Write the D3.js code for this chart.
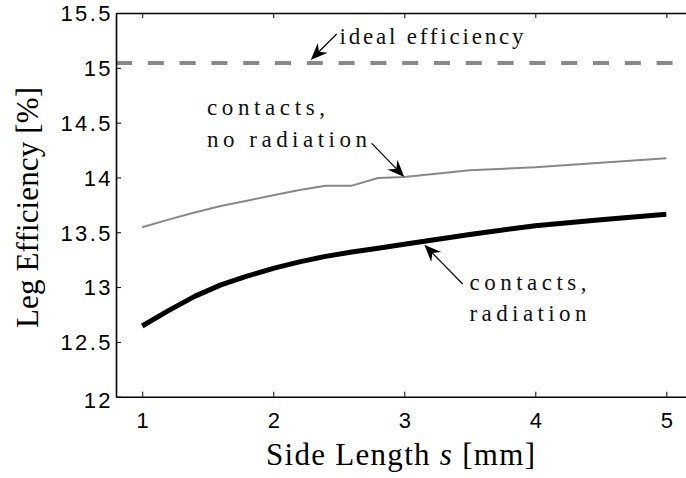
<!DOCTYPE html>
<html>
<head>
<meta charset="utf-8">
<script src="https://cdn.jsdelivr.net/npm/d3@7"></script>
<style>
  html, body { margin: 0; padding: 0; background: #fff; }
  svg { display: block; }
</style>
</head>
<body>
<svg id="chart" width="686" height="478"></svg>
<script>
// ---- data ----
const sideLength = [1, 1.2, 1.4, 1.6, 1.8, 2.0, 2.2, 2.4, 2.6, 2.8, 3.0, 3.5, 4.0, 4.5, 5.0];
const noRadiation = [13.545, 13.615, 13.68, 13.74, 13.788, 13.837, 13.885, 13.925, 13.925, 13.995, 14.005, 14.065, 14.092, 14.133, 14.175];
const withRadiation = [12.645, 12.785, 12.915, 13.02, 13.10, 13.17, 13.23, 13.28, 13.32, 13.355, 13.39, 13.48, 13.56, 13.615, 13.665];
const idealEfficiency = 15.045;
const xTicks = [1, 2, 3, 4, 5];
const yTicks = [12, 12.5, 13, 13.5, 14, 14.5, 15, 15.5];
const xLabel = "Side Length ";
const yLabel = "Leg Efficiency [%]";

// ---- layout ----
const margin = { left: 116, top: 13, bottom: 396.7, right: 686 };
const svg = d3.select("#chart");

const x = d3.scaleLinear().domain([0.8, 5.15]).range([margin.left, margin.right]);
const y = d3.scaleLinear().domain([12, 15.5]).range([margin.bottom, margin.top]);

const serif = "'Liberation Serif', 'DejaVu Serif', serif";
const sans = "'Liberation Sans', Arial, sans-serif";

// ideal efficiency dashed line
svg.append("line")
  .attr("x1", x(0.8)).attr("x2", x(5.15))
  .attr("y1", y(idealEfficiency)).attr("y2", y(idealEfficiency))
  .attr("stroke", "#888").attr("stroke-width", 4)
  .attr("stroke-dasharray", "16,15.8");

const line = d3.line().x((d, i) => x(sideLength[i])).y(d => y(d));

svg.append("path").datum(noRadiation)
  .attr("d", line).attr("fill", "none")
  .attr("stroke", "#888").attr("stroke-width", 2).attr("stroke-linejoin", "round");

svg.append("path").datum(withRadiation)
  .attr("d", line).attr("fill", "none")
  .attr("stroke", "#000").attr("stroke-width", 5).attr("stroke-linejoin", "round");

// ---- axes ----
const axisG = svg.append("g");
const leftAxis = d3.axisLeft(y).tickValues(yTicks).tickFormat(d3.format(""))
  .tickSizeInner(-5).tickSizeOuter(0).tickPadding(5.5);
const bottomAxis = d3.axisBottom(x).tickValues(xTicks).tickFormat(d3.format(""))
  .tickSizeInner(-5).tickSizeOuter(0).tickPadding(16);
const topAxis = d3.axisTop(x).tickValues(xTicks).tickFormat("")
  .tickSizeInner(-5).tickSizeOuter(0);

const gl = axisG.append("g").attr("transform", `translate(${margin.left},0)`).call(leftAxis);
const gb = axisG.append("g").attr("transform", `translate(0,${margin.bottom})`).call(bottomAxis);
const gt = axisG.append("g").attr("transform", `translate(0,${margin.top})`).call(topAxis);

[gl, gb, gt].forEach(g => {
  g.select(".domain").attr("stroke", "#000").attr("stroke-width", 1.6);
  g.selectAll(".tick line").attr("stroke", "#000").attr("stroke-width", 1);
  g.selectAll(".tick text").attr("fill", "#000")
    .style("font-family", sans).style("font-size", "22px")
    .style("letter-spacing", "2.4px");
});
gl.selectAll(".tick text").attr("dx", "2.4").attr("dy", "0.36em");
gb.selectAll(".tick text").attr("dx", "1.2");
gl.selectAll(".tick").filter(d => d === 12).select("text").attr("dy", "0.5em");

// axis labels
const xl = svg.append("text")
  .attr("x", 266).attr("y", 465)
  .style("font-family", serif).style("font-size", "31px").attr("fill", "#000");
xl.append("tspan").text(xLabel);
xl.append("tspan").style("font-style", "italic").text("s");
xl.append("tspan").text(" [mm]");
xl.attr("textLength", 269).attr("lengthAdjust", "spacing");

svg.append("text")
  .attr("transform", "translate(37.5,207.5) rotate(-90)")
  .attr("text-anchor", "middle")
  .style("font-family", serif).style("font-size", "31px").attr("fill", "#000")
  .attr("textLength", 241).attr("lengthAdjust", "spacing")
  .text(yLabel);

// ---- annotations ----
function annText(txt, x0, yb, len) {
  svg.append("text").attr("x", x0).attr("y", yb)
    .style("font-family", serif).style("font-size", "23px").attr("fill", "#111")
    .attr("textLength", len).attr("lengthAdjust", "spacing")
    .text(txt);
}
annText("ideal efficiency", 339.5, 43.5, 184);
annText("contacts,", 207, 115, 118);
annText("no radiation", 207, 146.5, 160);
annText("contacts,", 469.5, 290, 117);
annText("radiation", 469.5, 320.5, 117);

function arrow(tx, ty, hx, hy) {
  const L = 17, Wd = 7, notch = 5.5;
  const dx = hx - tx, dy = hy - ty, len = Math.hypot(dx, dy);
  const ux = dx / len, uy = dy / len, px = -uy, py = ux;
  const bx = hx - ux * L, by = hy - uy * L;
  const nx = hx - ux * (L - notch), ny = hy - uy * (L - notch);
  svg.append("line").attr("x1", tx).attr("y1", ty).attr("x2", nx).attr("y2", ny)
    .attr("stroke", "#000").attr("stroke-width", 1.2);
  svg.append("path")
    .attr("d", `M${hx},${hy}L${bx + px * Wd},${by + py * Wd}L${nx},${ny}L${bx - px * Wd},${by - py * Wd}Z`)
    .attr("fill", "#000");
}
arrow(336.7, 34, x(2.286), y(idealEfficiency) - 3);
arrow(371.7, 143.3, x(3.0), y(14.005));
arrow(462.7, 284, x(3.153), y(13.417) + 3.5);
</script>
</body>
</html>
